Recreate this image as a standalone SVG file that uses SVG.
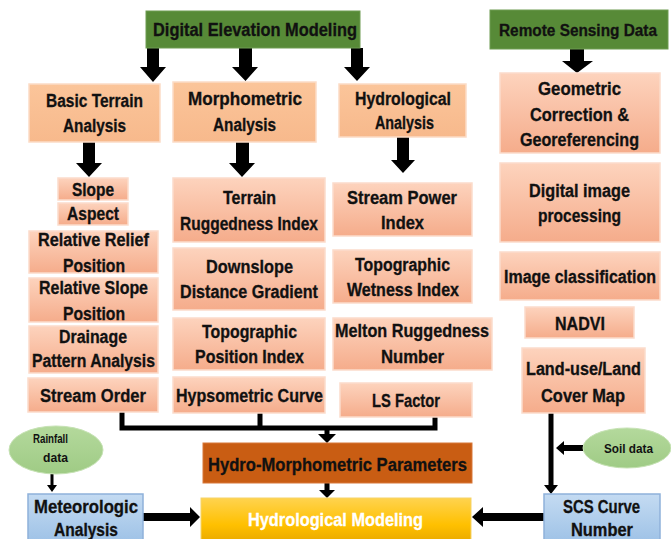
<svg xmlns="http://www.w3.org/2000/svg" width="671" height="539" viewBox="0 0 671 539">
<defs>
<linearGradient id="gSal" x1="0" y1="0" x2="0" y2="1"><stop offset="0" stop-color="#fdd3bd"/><stop offset="1" stop-color="#f5ac8b"/></linearGradient>
<linearGradient id="gTop" x1="0" y1="0" x2="0" y2="1"><stop offset="0" stop-color="#fbc59a"/><stop offset="1" stop-color="#f7b98c"/></linearGradient>
<linearGradient id="gYel" x1="0" y1="0" x2="0" y2="1"><stop offset="0" stop-color="#ffd34f"/><stop offset="0.6" stop-color="#ffc000"/><stop offset="1" stop-color="#e8a800"/></linearGradient>
<linearGradient id="gBlue" x1="0" y1="0" x2="0" y2="1"><stop offset="0" stop-color="#c4dbf2"/><stop offset="1" stop-color="#9dc1e6"/></linearGradient>
<linearGradient id="gGrn" x1="0" y1="0" x2="0" y2="1"><stop offset="0" stop-color="#b4d99c"/><stop offset="1" stop-color="#9fcb85"/></linearGradient>
</defs>
<style>
.sal{fill:url(#gSal);stroke:#fbdccb;stroke-width:1.5}
.top{fill:url(#gTop);stroke:#fcdcc6;stroke-width:1.5}
.grn{fill:#578a37;stroke:#6e9c52;stroke-width:1}
.blu{fill:url(#gBlue);stroke:#8fb1da;stroke-width:1.5}
.ell{fill:url(#gGrn);stroke:#c6e2b4;stroke-width:1}
.t{font-family:"Liberation Sans",Arial,sans-serif;font-weight:bold;font-size:17.5px;fill:#111;stroke:#111;stroke-width:0.3;text-anchor:middle}
.s{font-family:"Liberation Sans",Arial,sans-serif;font-weight:bold;font-size:12.5px;fill:#111;text-anchor:middle}
.w{fill:#fff;stroke:#fff}
.ar{fill:#000;stroke:none}
.ln{fill:none;stroke:#000;stroke-width:5;stroke-linejoin:miter}
</style>

<g id="connectors">
<polygon class="ar" points="147,48 159,48 159,67 166,67 153,82 140,67 147,67"/>
<polygon class="ar" points="239,48 252,48 252,67 258,67 245.5,81 232,67 239,67"/>
<polygon class="ar" points="351,48 363,48 363,67 370,67 357,81 344,67 351,67"/>
<polygon class="ar" points="570,49 584,49 584,61 593,61 577,73 562,61 570,61"/>
<polygon class="ar" points="83,142 95,142 95,163 102,163 89,177 76,163 83,163"/>
<polygon class="ar" points="236,142 249,142 249,163 255,163 242,177 229,163 236,163"/>
<polygon class="ar" points="397,137 409,137 409,160 415,160 403,173 391,160 397,160"/>
<path class="ln" d="M122,412 V428 H435 V417"/>
<path class="ln" d="M260,413 V428"/>
<polygon class="ar" points="324.5,428 329.5,428 329.5,434 336,434 327,443 318,434 324.5,434"/>
<polygon class="ar" points="324.5,483 329.5,483 329.5,490 335,490 327,498 319,490 324.5,490"/>
<polygon class="ar" points="50.5,474 53.5,474 53.5,485 57,485 52,492 47,485 50.5,485"/>
<polygon class="ar" points="143,513 190,513 190,507 200,517 190,527 190,521 143,521"/>
<polygon class="ar" points="544,513 483,513 483,507 472,517 483,527 483,521 544,521"/>
<polygon class="ar" points="548.5,413 553.5,413 553.5,485 558,485 551,494 544,485 548.5,485"/>
<polygon class="ar" points="583,445 564,445 564,441 556,448 564,455 564,451 583,451"/>
</g>

<g id="dem"><rect class="grn" x="146" y="11" width="214" height="37"/><text class="t" x="255" y="36" textLength="204" lengthAdjust="spacingAndGlyphs">Digital Elevation Modeling</text></g>
<g id="rsd"><rect class="grn" x="490" y="10" width="178" height="39"/><text class="t" x="578" y="36" style="font-size:16px" textLength="158" lengthAdjust="spacingAndGlyphs">Remote Sensing Data</text></g>

<g id="basic"><rect class="top" x="29" y="84" width="131" height="58"/><text class="t" x="94.5" y="107" textLength="97" lengthAdjust="spacingAndGlyphs">Basic Terrain</text><text class="t" x="94.5" y="132" textLength="63" lengthAdjust="spacingAndGlyphs">Analysis</text></g>
<g id="morph"><rect class="top" x="173" y="82" width="143" height="60"/><text class="t" x="245" y="105" textLength="114" lengthAdjust="spacingAndGlyphs">Morphometric</text><text class="t" x="244.5" y="131" textLength="63" lengthAdjust="spacingAndGlyphs">Analysis</text></g>
<g id="hydro"><rect class="top" x="339" y="84" width="127" height="53"/><text class="t" x="403" y="105" textLength="96" lengthAdjust="spacingAndGlyphs">Hydrological</text><text class="t" x="404.5" y="129" textLength="59" lengthAdjust="spacingAndGlyphs">Analysis</text></g>

<g id="geo"><rect class="sal" x="500" y="73" width="160" height="80"/><text class="t" x="579.5" y="95" textLength="83" lengthAdjust="spacingAndGlyphs">Geometric</text><text class="t" x="579.5" y="121" textLength="99" lengthAdjust="spacingAndGlyphs">Correction &amp;</text><text class="t" x="579.5" y="146" textLength="119" lengthAdjust="spacingAndGlyphs">Georeferencing</text></g>
<g id="dip"><rect class="sal" x="500" y="163" width="160" height="79"/><text class="t" x="579.5" y="197" textLength="101" lengthAdjust="spacingAndGlyphs">Digital image</text><text class="t" x="579.5" y="222" textLength="83" lengthAdjust="spacingAndGlyphs">processing</text></g>
<g id="icls"><rect class="sal" x="500" y="252" width="160" height="48"/><text class="t" x="580" y="283" textLength="152" lengthAdjust="spacingAndGlyphs">Image classification</text></g>
<g id="nadvi"><rect class="sal" x="525" y="307" width="109" height="31"/><text class="t" x="580" y="330" textLength="50" lengthAdjust="spacingAndGlyphs">NADVI</text></g>
<g id="lulc"><rect class="sal" x="522" y="348" width="123" height="65"/><text class="t" x="583.5" y="375" textLength="115" lengthAdjust="spacingAndGlyphs">Land-use/Land</text><text class="t" x="583" y="402" textLength="84" lengthAdjust="spacingAndGlyphs">Cover Map</text></g>

<g id="slope"><rect class="sal" x="58" y="178" width="70" height="22"/><text class="t" x="93" y="196" textLength="42" lengthAdjust="spacingAndGlyphs">Slope</text></g>
<g id="aspect"><rect class="sal" x="58" y="203" width="70" height="22"/><text class="t" x="93" y="220" textLength="52" lengthAdjust="spacingAndGlyphs">Aspect</text></g>
<g id="rrp"><rect class="sal" x="29" y="231" width="129" height="42"/><text class="t" x="93.5" y="246" textLength="111" lengthAdjust="spacingAndGlyphs">Relative Relief</text><text class="t" x="94" y="272" textLength="62" lengthAdjust="spacingAndGlyphs">Position</text></g>
<g id="rsp"><rect class="sal" x="29" y="278" width="129" height="44"/><text class="t" x="93.5" y="294" textLength="109" lengthAdjust="spacingAndGlyphs">Relative Slope</text><text class="t" x="94" y="320" textLength="62" lengthAdjust="spacingAndGlyphs">Position</text></g>
<g id="dpa"><rect class="sal" x="29" y="326" width="129" height="47"/><text class="t" x="93" y="343" textLength="68" lengthAdjust="spacingAndGlyphs">Drainage</text><text class="t" x="93.5" y="367" textLength="123" lengthAdjust="spacingAndGlyphs">Pattern Analysis</text></g>
<g id="so"><rect class="sal" x="28" y="378" width="130" height="34"/><text class="t" x="93" y="402" textLength="106" lengthAdjust="spacingAndGlyphs">Stream Order</text></g>

<g id="tri"><rect class="sal" x="173" y="178" width="152" height="64"/><text class="t" x="249.5" y="204" textLength="53" lengthAdjust="spacingAndGlyphs">Terrain</text><text class="t" x="249" y="230" textLength="138" lengthAdjust="spacingAndGlyphs">Ruggedness Index</text></g>
<g id="ddg"><rect class="sal" x="173" y="248" width="152" height="62"/><text class="t" x="249.5" y="273" textLength="87" lengthAdjust="spacingAndGlyphs">Downslope</text><text class="t" x="249" y="298" textLength="138" lengthAdjust="spacingAndGlyphs">Distance Gradient</text></g>
<g id="tpi"><rect class="sal" x="173" y="318" width="152" height="52"/><text class="t" x="249.5" y="338" textLength="95" lengthAdjust="spacingAndGlyphs">Topographic</text><text class="t" x="249.5" y="363" textLength="109" lengthAdjust="spacingAndGlyphs">Position Index</text></g>
<g id="hyp"><rect class="sal" x="173" y="377" width="152" height="36"/><text class="t" x="249.5" y="402" textLength="147" lengthAdjust="spacingAndGlyphs">Hypsometric Curve</text></g>

<g id="spi"><rect class="sal" x="333" y="183" width="139" height="53"/><text class="t" x="402" y="204" textLength="110" lengthAdjust="spacingAndGlyphs">Stream Power</text><text class="t" x="402.5" y="229" textLength="43" lengthAdjust="spacingAndGlyphs">Index</text></g>
<g id="twi"><rect class="sal" x="333" y="250" width="139" height="53"/><text class="t" x="402.5" y="271" textLength="95" lengthAdjust="spacingAndGlyphs">Topographic</text><text class="t" x="403" y="296" textLength="112" lengthAdjust="spacingAndGlyphs">Wetness Index</text></g>
<g id="mrn"><rect class="sal" x="333" y="318" width="159" height="52"/><text class="t" x="412" y="337" textLength="154" lengthAdjust="spacingAndGlyphs">Melton Ruggedness</text><text class="t" x="412.5" y="363" textLength="63" lengthAdjust="spacingAndGlyphs">Number</text></g>
<g id="ls"><rect class="sal" x="340" y="383" width="132" height="34"/><text class="t" x="406" y="407" textLength="68" lengthAdjust="spacingAndGlyphs">LS Factor</text></g>

<g id="hmp"><rect x="203" y="443" width="269" height="40" fill="#c95d13" stroke="#d8783a" stroke-width="1"/><text class="t" x="337.5" y="471" textLength="259" lengthAdjust="spacingAndGlyphs">Hydro-Morphometric Parameters</text></g>
<g id="hm"><rect x="201" y="498" width="270" height="45" fill="url(#gYel)" stroke="#f5d36a" stroke-width="1"/><text class="t w" x="335.5" y="526" textLength="175" lengthAdjust="spacingAndGlyphs">Hydrological Modeling</text></g>

<g id="rain"><ellipse class="ell" cx="56" cy="450" rx="47" ry="24"/><text class="s" x="50.5" y="443" textLength="35" lengthAdjust="spacingAndGlyphs">Rainfall</text><text class="s" x="55.5" y="462" textLength="25" lengthAdjust="spacingAndGlyphs">data</text></g>
<g id="met"><rect class="blu" x="28" y="494" width="115" height="50"/><text class="t" x="86" y="513" textLength="104" lengthAdjust="spacingAndGlyphs">Meteorologic</text><text class="t" x="86" y="536" textLength="64" lengthAdjust="spacingAndGlyphs">Analysis</text></g>
<g id="soil"><ellipse class="ell" cx="627" cy="448" rx="44" ry="20"/><text class="s" x="628.5" y="453" textLength="49" lengthAdjust="spacingAndGlyphs">Soil data</text></g>
<g id="scs"><rect class="blu" x="544" y="494" width="116" height="50"/><text class="t" x="601.5" y="513" textLength="77" lengthAdjust="spacingAndGlyphs">SCS Curve</text><text class="t" x="602" y="536" textLength="62" lengthAdjust="spacingAndGlyphs">Number</text></g>
</svg>
